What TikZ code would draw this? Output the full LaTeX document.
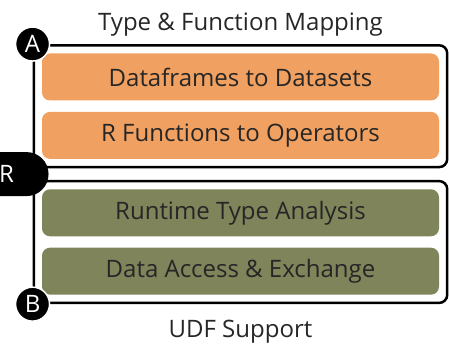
\documentclass[tikz,border=0pt]{standalone}
\usepackage{fontspec}
\setmainfont{Open Sans}
\usetikzlibrary{positioning,fit,calc}

\definecolor{mapcolor}{HTML}{F0A060}
\definecolor{udfcolor}{HTML}{7F845A}
\definecolor{inkcolor}{HTML}{262626}

\begin{document}
\begin{tikzpicture}[x=1pt,y=1pt]
  % Styles
  \tikzstyle{stage box}=[rounded corners=8pt,minimum width=397pt,minimum height=47pt,
    inner sep=0pt,font=\fontsize{24}{28}\selectfont,text=inkcolor]
  \tikzstyle{map box}=[stage box,fill=mapcolor]
  \tikzstyle{udf box}=[stage box,fill=udfcolor]
  \tikzstyle{frame}=[draw=black,line width=2.5pt,rounded corners=8pt,inner sep=8pt]
  \tikzstyle{marker}=[circle,fill=black,draw=white,line width=1.5pt,minimum size=34pt,
    inner sep=0pt,text=white,font=\fontsize{24}{28}\selectfont]
  \tikzstyle{heading}=[font=\fontsize{24}{28}\selectfont,text=inkcolor]

  \useasboundingbox (0,0) rectangle (449,347);

  % The boxes
  \node[map box] (frames) at (240.5,270) {Dataframes to Datasets};
  \node[map box,below=11pt of frames] (funcs) {R Functions to Operators};
  \node[udf box,below=30pt of funcs] (types) {Runtime Type Analysis};
  \node[udf box,below=11pt of types] (access) {Data Access \& Exchange};

  % The frames
  \node[frame,fit=(frames)(funcs)] (mapping) {};
  \node[frame,fit=(types)(access)] (udf) {};

  % Headings
  \node[heading,anchor=base] (maptitle) at ([yshift=14pt]mapping.north) {Type \& Function Mapping};
  \node[heading,anchor=base] (udftitle) at ([yshift=-33pt]udf.south) {UDF Support};

  % Markers
  \node[marker] (a) at (mapping.north west) {A};
  \node[marker] (b) at (udf.south west) {B};
  \coordinate (rmid) at ($(mapping.south west)!0.5!(udf.north west)$);
  \fill[black,rounded corners=22pt] ([shift={(-60pt,-22pt)}]rmid) rectangle ([shift={(16pt,22pt)}]rmid);
  \node[text=white,font=\fontsize{24}{28}\selectfont] (r) at ([xshift=-26pt]rmid) {R};
\end{tikzpicture}
\end{document}
